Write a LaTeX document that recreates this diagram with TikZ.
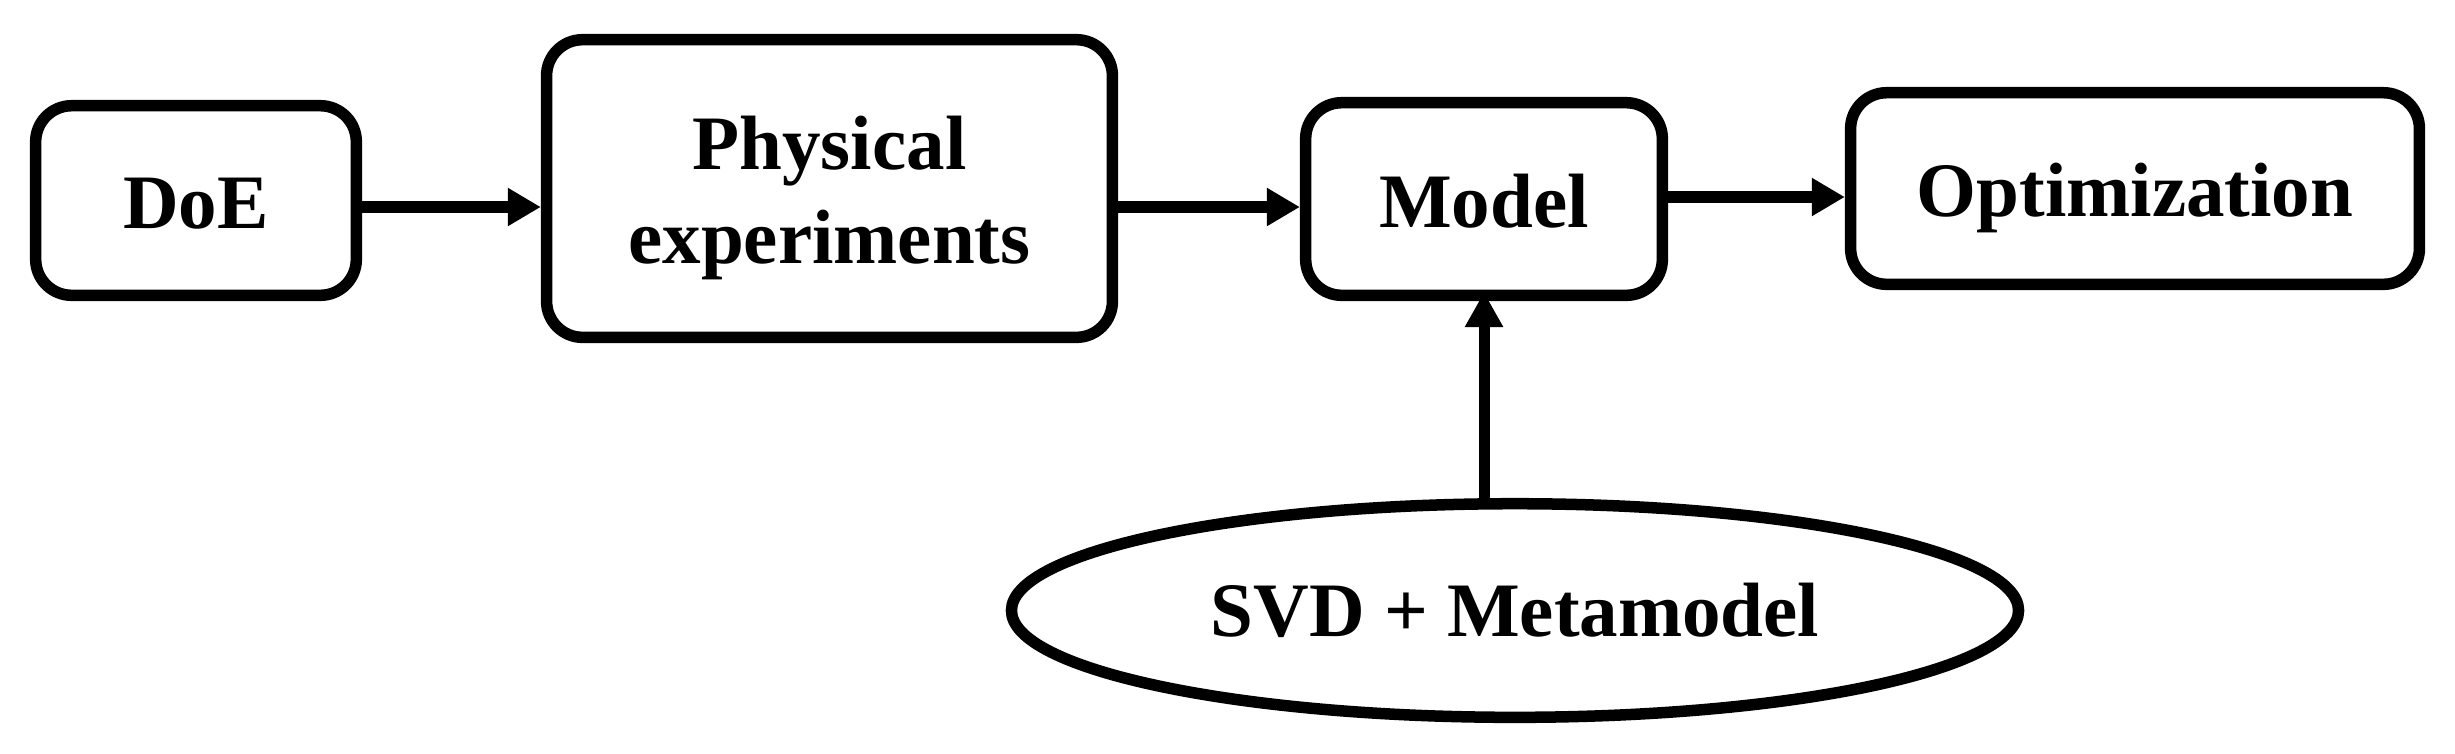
\documentclass[tikz,border=0pt]{standalone}
\usepackage{fontspec}
\setmainfont{Liberation Serif}
\usetikzlibrary{shapes.geometric,arrows.meta}
\begin{document}
\begin{tikzpicture}[x=0.01cm,y=-0.01cm,
  txt/.style={font=\fontsize{21.9pt}{26.5pt}\selectfont\bfseries},
  box/.style={draw, line width=0.115cm, rounded corners=0.36cm, align=center, inner sep=0pt, txt},
  one/.style={text height=0.56cm, text depth=0cm},
  ell/.style={draw, ellipse, line width=0.115cm, inner sep=0pt, txt, text height=0.52cm, text depth=0cm},
  arr/.style={line width=0.115cm, -{Triangle[length=0.33cm,width=0.36cm]}},
  varr/.style={line width=0.11cm, -{Triangle[length=0.35cm,width=0.36cm]}}]
\useasboundingbox (0,0) rectangle (2455,753);
\node[box, one, minimum width=3.205cm, minimum height=1.895cm] (doe) at (196,200.5) {DoE};
\node[box, minimum width=5.655cm, minimum height=2.975cm, text height=1.49cm, text depth=0cm] (phys) at (829.5,188.5) {Physical\\experiments};
\node[box, one, minimum width=3.565cm, minimum height=1.925cm] (model) at (1484,199) {Model};
\node[box, one, minimum width=5.685cm, minimum height=1.915cm] (opt) at (2135,188.5) {Optimization};
\node[ell, minimum width=10.065cm, minimum height=2.135cm] (svd) at (1515,610.5) {SVD + Metamodel};
\draw[arr] (doe.east |- 0,207) -- (phys.west |- 0,207);
\draw[arr] (phys.east |- 0,207) -- (model.west |- 0,207);
\draw[arr] (model.east |- 0,197) -- (opt.west |- 0,197);
\draw[varr] (model.south |- svd.north) -- ([yshift=0.09cm]model.south);
\end{tikzpicture}
\end{document}
